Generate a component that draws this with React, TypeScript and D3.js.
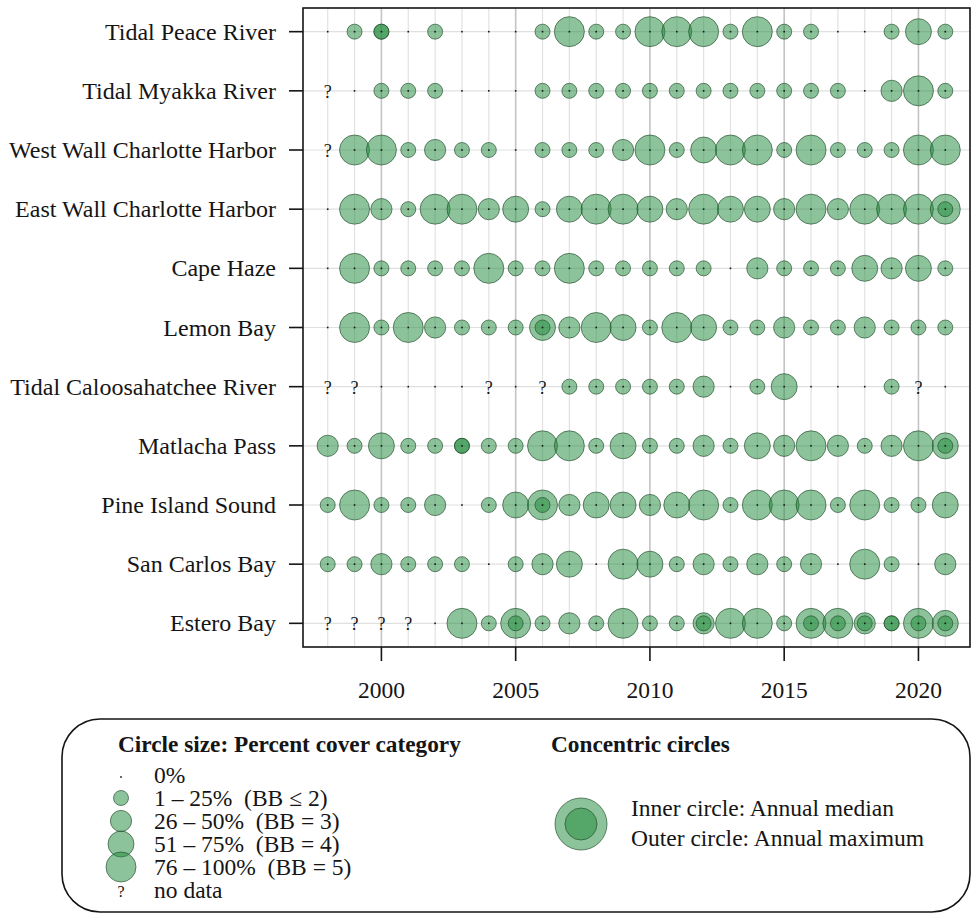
import React from "react";
import * as d3 from "d3";

// Survey years and sites (top to bottom)
const years: number[] = d3.range(1998, 2022);

const sites: string[] = [
  "Tidal Peace River",
  "Tidal Myakka River",
  "West Wall Charlotte Harbor",
  "East Wall Charlotte Harbor",
  "Cape Haze",
  "Lemon Bay",
  "Tidal Caloosahatchee River",
  "Matlacha Pass",
  "Pine Island Sound",
  "San Carlos Bay",
  "Estero Bay",
];

// Annual maximum percent-cover category per site and year
// 0 = 0%, 1 = 1–25%, 2 = 26–50%, 3 = 51–75%, 4 = 76–100%, null = no data
const N = null;
const tidalPeace = [0, 1, 1, 0, 1, 0, 0, 0, 1, 4, 1, 1, 4, 4, 4, 1, 4, 1, 1, 0, 0, 1, 3, 1];
const tidalMyakka = [N, 0, 1, 1, 1, 0, 0, 0, 1, 1, 1, 1, 1, 1, 1, 1, 1, 1, 1, 1, 0, 2, 4, 1];
const westWall = [N, 4, 4, 1, 2, 1, 1, 0, 1, 1, 1, 2, 4, 1, 3, 4, 4, 1, 4, 1, 1, 1, 4, 4];
const eastWall = [0, 4, 2, 1, 4, 4, 2, 3, 1, 3, 4, 4, 3, 2, 4, 3, 3, 2, 4, 2, 4, 4, 4, 4];
const capeHaze = [0, 4, 1, 1, 1, 1, 4, 1, 1, 4, 1, 1, 1, 1, 1, 0, 2, 1, 1, 1, 3, 2, 3, 1];
const lemonBay = [0, 4, 1, 4, 2, 1, 1, 1, 3, 2, 4, 3, 1, 4, 3, 1, 1, 2, 1, 1, 2, 1, 1, 1];
const tidalCaloosahatchee = [N, N, 0, 0, 0, 0, N, 0, N, 1, 1, 1, 1, 1, 2, 0, 1, 3, 0, 0, 0, 1, N, 0];
const matlachaPass = [2, 1, 3, 1, 1, 1, 1, 1, 4, 4, 1, 3, 1, 1, 2, 1, 3, 2, 4, 2, 1, 2, 4, 3];
const pineIsland = [1, 4, 1, 1, 2, 0, 1, 3, 4, 2, 3, 3, 2, 3, 4, 1, 4, 4, 4, 1, 4, 1, 1, 3];
const sanCarlos = [1, 1, 2, 1, 1, 1, 0, 1, 2, 3, 0, 4, 3, 1, 2, 1, 2, 1, 2, 0, 4, 1, 0, 2];
const esteroBay = [N, N, N, N, 0, 4, 1, 4, 1, 2, 1, 4, 1, 1, 2, 4, 4, 1, 4, 4, 2, 1, 4, 3];

const maxCategory: (number | null)[][] = [
  tidalPeace, tidalMyakka, westWall, eastWall, capeHaze, lemonBay,
  tidalCaloosahatchee, matlachaPass, pineIsland, sanCarlos, esteroBay,
];

// Annual median category where it is above 0% (site, year, category)
const medianCategory: [string, number, number][] = [
  ["Tidal Peace River", 2000, 1],
  ["East Wall Charlotte Harbor", 2021, 1],
  ["Lemon Bay", 2006, 1],
  ["Matlacha Pass", 2003, 1],
  ["Matlacha Pass", 2021, 1],
  ["Pine Island Sound", 2006, 1],
  ["Estero Bay", 2005, 1],
  ["Estero Bay", 2012, 1],
  ["Estero Bay", 2016, 1],
  ["Estero Bay", 2017, 1],
  ["Estero Bay", 2018, 1],
  ["Estero Bay", 2019, 1],
  ["Estero Bay", 2020, 1],
  ["Estero Bay", 2021, 1],
];

const xTicks: number[] = [2000, 2005, 2010, 2015, 2020];

const sizeLegend: string[] = [
  "0%",
  "1 – 25%  (BB ≤ 2)",
  "26 – 50%  (BB = 3)",
  "51 – 75%  (BB = 4)",
  "76 – 100%  (BB = 5)",
  "no data",
];
const sizeLegendCategory: (number | null)[] = [0, 1, 2, 3, 4, null];

const FONT = "'Liberation Serif', 'Times New Roman', serif";
const FILL = "rgba(34,140,62,0.52)";
const STROKE = "rgba(35,75,45,0.65)";
const INK = "#151515";

const W = 972;
const H = 914;
const plot = { left: 303, right: 970, top: 8, bottom: 647 };

export default function App() {
  const pad = (2021 - 1998) * 0.04;
  const x = d3.scaleLinear().domain([1998 - pad, 2021 + pad]).range([plot.left, plot.right]);
  const y = d3
    .scaleLinear()
    .domain([-(sites.length - 1) * 0.04, (sites.length - 1) * 1.04])
    .range([plot.top, plot.bottom]);
  const r = d3.scaleSqrt().domain([0, 1]).range([0, 7.5]);

  const marks: JSX.Element[] = [];
  const dots: JSX.Element[] = [];
  const unknown: JSX.Element[] = [];

  maxCategory.forEach((row, i) => {
    row.forEach((v, j) => {
      const cx = x(years[j]);
      const cy = y(i);
      if (v === null) {
        unknown.push(
          <text key={`q${i}-${j}`} x={cx} y={cy + 1} textAnchor="middle" dominantBaseline="central"
            fontFamily={FONT} fontSize={18} fill={INK}>?</text>
        );
        return;
      }
      if (v > 0) {
        marks.push(
          <circle key={`m${i}-${j}`} cx={cx} cy={cy} r={r(v)} fill={FILL} stroke={STROKE} strokeWidth={1} />
        );
      }
      dots.push(<rect key={`d${i}-${j}`} x={cx - 0.8} y={cy - 0.8} width={1.6} height={1.6} fill={INK} />);
    });
  });

  const medians = medianCategory.map(([site, yr, v]) => {
    const i = sites.indexOf(site);
    return (
      <circle key={`md-${site}-${yr}`} cx={x(yr)} cy={y(i)} r={r(v)} fill={FILL} stroke={STROKE} strokeWidth={1} />
    );
  });

  // Legend layout
  const legX = 121;
  const legY0 = 775;
  const legStep = 23;
  const textStyle = { whiteSpace: "pre" as const };

  return (
    <svg width={W} height={H} style={{ position: "absolute", left: 0, top: 0, background: "#fff" }}>
      <rect x={0} y={0} width={W} height={H} fill="#fff" />

      {/* grid */}
      {years.map((yr) => (
        <line key={`gv${yr}`} x1={x(yr)} x2={x(yr)} y1={plot.top} y2={plot.bottom}
          stroke={yr % 5 === 0 ? "#c4c4c4" : "#e2e2e2"} strokeWidth={yr % 5 === 0 ? 1.6 : 1.2} />
      ))}
      {sites.map((s, i) => (
        <line key={`gh${i}`} x1={plot.left} x2={plot.right} y1={y(i)} y2={y(i)} stroke="#e0e0e0" strokeWidth={1.2} />
      ))}

      {marks}
      {medians}
      {dots}
      {unknown}

      {/* frame */}
      <rect x={plot.left} y={plot.top} width={plot.right - plot.left} height={plot.bottom - plot.top}
        fill="none" stroke={INK} strokeWidth={1.6} />

      {/* y axis */}
      {sites.map((s, i) => (
        <g key={`ya${i}`}>
          <line x1={plot.left - 14} x2={plot.left} y1={y(i)} y2={y(i)} stroke={INK} strokeWidth={1.6} />
          <text x={plot.left - 27} y={y(i)} textAnchor="end" dominantBaseline="central"
            fontFamily={FONT} fontSize={24} fill={INK}>{s}</text>
        </g>
      ))}

      {/* x axis */}
      {xTicks.map((t) => (
        <g key={`xa${t}`}>
          <line x1={x(t)} x2={x(t)} y1={plot.bottom} y2={plot.bottom + 14} stroke={INK} strokeWidth={1.6} />
          <text x={x(t)} y={690} textAnchor="middle" dominantBaseline="central"
            fontFamily={FONT} fontSize={23.5} fill={INK}>{t}</text>
        </g>
      ))}

      {/* legend box */}
      <rect x={62} y={719} width={908} height={193} rx={38} ry={38} fill="none" stroke={INK} strokeWidth={1.6} />

      <text x={118} y={744} dominantBaseline="central" fontFamily={FONT} fontSize={23.3} fontWeight="bold" fill={INK}>
        Circle size: Percent cover category
      </text>
      {sizeLegend.map((label, k) => {
        const cy = legY0 + k * legStep;
        const cat = sizeLegendCategory[k];
        return (
          <g key={`lg${k}`}>
            {cat === null ? (
              <text x={legX} y={cy + 1} textAnchor="middle" dominantBaseline="central" fontFamily={FONT} fontSize={16} fill={INK}>?</text>
            ) : cat === 0 ? (
              <rect x={legX - 0.8} y={cy + 1.2} width={1.6} height={1.6} fill={INK} />
            ) : (
              <circle cx={legX} cy={cy} r={r(cat)} fill={FILL} stroke={STROKE} strokeWidth={1} />
            )}
            <text x={154} y={cy} dominantBaseline="central" fontFamily={FONT} fontSize={23.5} fill={INK} style={textStyle}>{label}</text>
          </g>
        );
      })}

      <text x={551} y={744} dominantBaseline="central" fontFamily={FONT} fontSize={23.3} fontWeight="bold" fill={INK}>
        Concentric circles
      </text>
      <circle cx={581} cy={824} r={26} fill={FILL} stroke={STROKE} strokeWidth={1} />
      <circle cx={581} cy={824} r={16} fill={FILL} stroke={STROKE} strokeWidth={1} />
      <text x={631} y={808} dominantBaseline="central" fontFamily={FONT} fontSize={23.5} fill={INK}>
        Inner circle: Annual median
      </text>
      <text x={631} y={838} dominantBaseline="central" fontFamily={FONT} fontSize={23.5} fill={INK}>
        Outer circle: Annual maximum
      </text>
    </svg>
  );
}
